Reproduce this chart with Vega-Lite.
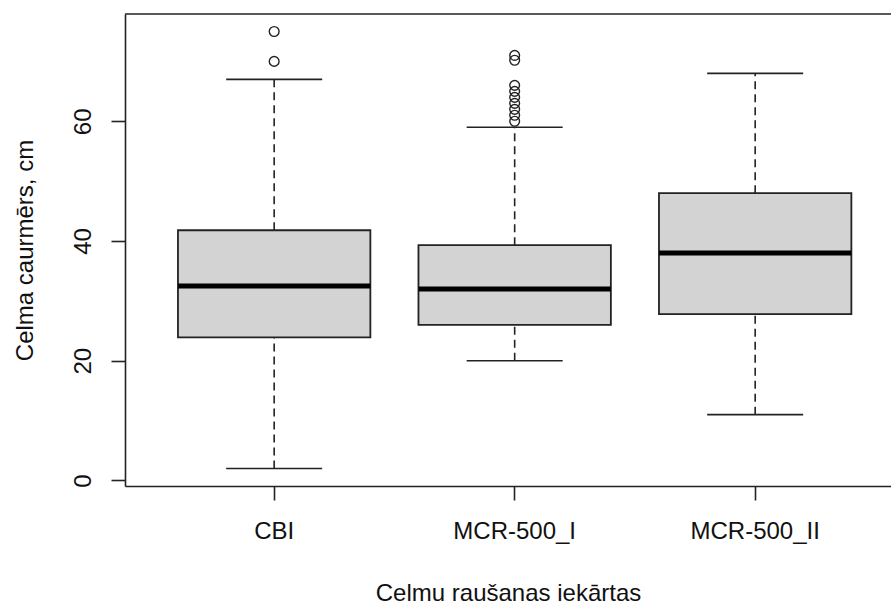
{
  "$schema": "https://vega.github.io/schema/vega-lite/v6.json",
  "autosize": {"type": "none"},
  "padding": {"left": 125, "top": 14, "right": 0, "bottom": 118},
  "width": 766,
  "height": 472,
  "background": "white",
  "config": {
    "view": {"stroke": null},
    "font": "Liberation Sans",
    "axis": {
      "labelFont": "Liberation Sans",
      "titleFont": "Liberation Sans",
      "labelFontSize": 24,
      "titleFontSize": 24,
      "titleFontWeight": "normal",
      "labelColor": "#111",
      "titleColor": "#111",
      "domainColor": "#222",
      "domainWidth": 1.6,
      "tickColor": "#222",
      "tickWidth": 1.6,
      "tickSize": 14,
      "grid": false
    }
  },
  "datasets": {
    "stats": [
      {"group": "CBI", "lower": 2, "q1": 23.9, "median": 32.5, "q3": 41.8, "upper": 67},
      {"group": "MCR-500_I", "lower": 20, "q1": 26, "median": 32, "q3": 39.3, "upper": 59},
      {"group": "MCR-500_II", "lower": 11, "q1": 27.8, "median": 38, "q3": 48, "upper": 68}
    ],
    "outliers": [
      {"group": "CBI", "value": 70},
      {"group": "CBI", "value": 75},
      {"group": "MCR-500_I", "value": 60},
      {"group": "MCR-500_I", "value": 61},
      {"group": "MCR-500_I", "value": 62},
      {"group": "MCR-500_I", "value": 63},
      {"group": "MCR-500_I", "value": 64},
      {"group": "MCR-500_I", "value": 65},
      {"group": "MCR-500_I", "value": 66},
      {"group": "MCR-500_I", "value": 70.2},
      {"group": "MCR-500_I", "value": 71}
    ]
  },
  "encoding": {
    "x": {
      "field": "group",
      "type": "nominal",
      "sort": ["CBI", "MCR-500_I", "MCR-500_II"],
      "scale": {"type": "band", "paddingInner": 0.2, "paddingOuter": 0.1925, "align": 0.572},
      "axis": {
        "title": "Celmu raušanas iekārtas",
        "labelAngle": 0,
        "labelPadding": 19,
        "titlePadding": 38
      }
    }
  },
  "layer": [
    {
      "data": {"name": "stats"},
      "mark": {"type": "rule", "color": "#222", "strokeWidth": 1.6, "strokeDash": [8, 5]},
      "encoding": {
        "y": {
          "field": "lower",
          "type": "quantitative",
          "scale": {"domain": [-0.92, 77.92], "nice": false, "zero": false},
          "axis": {
            "title": "Celma caurmērs, cm",
            "values": [0, 20, 40, 60],
            "labelAngle": -90,
            "labelAlign": "center",
            "labelBaseline": "alphabetic",
            "labelPadding": 21,
            "titlePadding": 34
          }
        },
        "y2": {"field": "q1"}
      }
    },
    {
      "data": {"name": "stats"},
      "mark": {"type": "rule", "color": "#222", "strokeWidth": 1.6, "strokeDash": [8, 5]},
      "encoding": {
        "y": {"field": "q3", "type": "quantitative"},
        "y2": {"field": "upper"}
      }
    },
    {
      "data": {"name": "stats"},
      "mark": {"type": "tick", "color": "#222", "opacity": 1, "size": 96, "thickness": 1.6, "orient": "horizontal"},
      "encoding": {"y": {"field": "lower", "type": "quantitative"}}
    },
    {
      "data": {"name": "stats"},
      "mark": {"type": "tick", "color": "#222", "opacity": 1, "size": 96, "thickness": 1.6, "orient": "horizontal"},
      "encoding": {"y": {"field": "upper", "type": "quantitative"}}
    },
    {
      "data": {"name": "stats"},
      "mark": {"type": "bar", "fill": "#D3D3D3", "opacity": 1, "stroke": "#222", "strokeWidth": 1.8, "width": {"band": 1}},
      "encoding": {
        "y": {"field": "q1", "type": "quantitative"},
        "y2": {"field": "q3"}
      }
    },
    {
      "data": {"name": "stats"},
      "mark": {"type": "tick", "color": "#000", "opacity": 1, "size": 192, "thickness": 5, "orient": "horizontal"},
      "encoding": {"y": {"field": "median", "type": "quantitative"}}
    },
    {
      "data": {"name": "outliers"},
      "mark": {"type": "point", "shape": "circle", "filled": false, "color": "#222", "strokeWidth": 1.4, "size": 95, "opacity": 1},
      "encoding": {"y": {"field": "value", "type": "quantitative"}}
    },
    {
      "data": {"values": [{"top": 77.92}]},
      "mark": {"type": "rule", "color": "#222", "strokeWidth": 1.6},
      "encoding": {"y": {"field": "top", "type": "quantitative"}, "x": {"value": 0}, "x2": {"value": 766}}
    }
  ]
}
